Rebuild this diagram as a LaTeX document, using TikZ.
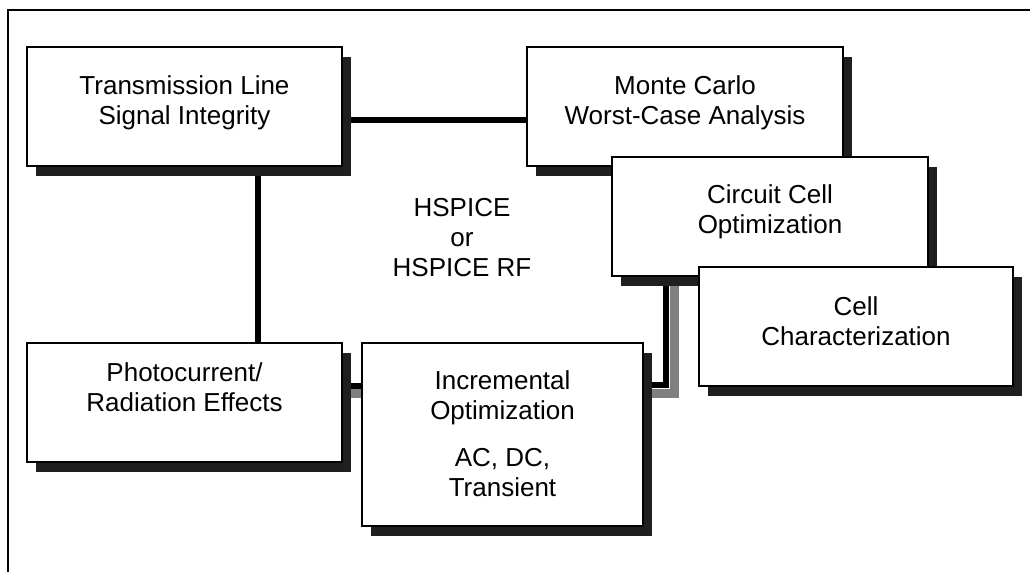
\documentclass[tikz,border=0pt]{standalone}
\usepackage{fontspec}
\setmainfont{Liberation Sans}
\usetikzlibrary{calc,shadows}
\definecolor{shadowc}{gray}{0.12}
\definecolor{connshade}{gray}{0.5}
\tikzset{
  box/.style={draw=black, fill=white, line width=1.5pt, inner sep=0pt, outer sep=0pt,
    general shadow={fill=shadowc, shadow xshift=6.75pt, shadow yshift=-7.5pt}},
  conn/.style={draw=black, line width=4.5pt, line join=miter},
  connshadow/.style={draw=connshade, line width=7pt, line join=miter},
  txt/.style={align=center, inner sep=0pt, font=\fontsize{19.5pt}{22.5pt}\selectfont},
  frame/.style={draw=black, line width=1.75pt}
}
\begin{document}
\begin{tikzpicture}[x=0.75pt,y=-0.75pt]
\useasboundingbox (0,0) rectangle (1030,571);
\clip (0,0) rectangle (1030,571);
\path[fill=white] (0,0) rectangle (1030,571);
\draw[frame] (8,10) rectangle (1100,650);

% box positions (empty nodes first for connector geometry)
\path (184.5,106.5) node[minimum width=236.25pt, minimum height=89.25pt] (tl) {};
\path (685,106.5) node[minimum width=237pt, minimum height=89.25pt] (mc) {};
\path (770,216.5) node[minimum width=237pt, minimum height=89.25pt] (cc) {};
\path (856,326.5) node[minimum width=235.5pt, minimum height=89.25pt] (ch) {};
\path (184.5,402.5) node[minimum width=236.25pt, minimum height=89.25pt] (ph) {};
\path (502.5,434.5) node[minimum width=210.75pt, minimum height=137.25pt] (in) {};

% connectors
\coordinate (a1) at ($(tl.east)+(0,13.5)$);
\coordinate (a2) at ($(mc.west)+(0,13.5)$);
\draw[conn] (a1) -- (a2);
\coordinate (b1) at ($(tl.south)+(73.5,0)$);
\coordinate (b2) at ($(ph.north)+(73.5,0)$);
\draw[conn] (b1) -- (b2);
\coordinate (c1) at ($(ph.east)+(0,-16.5)$);
\coordinate (c2) at ($(ph.east)+(0,-9)$);
\draw[connshadow] (c2) -- (c2 -| in.west);
\draw[conn] (c1) -- (c1 -| in.west);
\coordinate (q1) at ($(in.east)+(0,-49.5)$);
\coordinate (q2) at ($(cc.south)+(-104.5,0)$);
\coordinate (q1s) at ($(in.east)+(0,-41)$);
\coordinate (q2s) at ($(cc.south)+(-95.5,0)$);
\draw[connshadow] (q1s) -| (q2s);
\draw[conn] (q1) -| (q2);

% boxes
\node[box, minimum width=236.25pt, minimum height=89.25pt] at (tl) {};
\node[box, minimum width=237pt, minimum height=89.25pt] at (mc) {};
\node[box, minimum width=236.25pt, minimum height=89.25pt] at (ph) {};
\node[box, minimum width=210.75pt, minimum height=137.25pt] at (in) {};
\node[box, minimum width=237pt, minimum height=89.25pt] at (cc) {};
\node[box, minimum width=235.5pt, minimum height=89.25pt] at (ch) {};

% texts
\node[txt] (tlt) at ($(tl.center)+(0,-3.5)$) {Transmission Line\\Signal Integrity};
\node[txt] (mct) at ($(mc.center)+(0,-3.5)$) {Monte Carlo\\Worst-Case Analysis};
\node[txt] (cct) at ($(cc.center)+(0,-4.5)$) {Circuit Cell\\Optimization};
\node[txt] (cht) at ($(ch.center)+(0,-5)$) {Cell\\Characterization};
\node[txt] (pht) at ($(ph.center)+(0,-15)$) {Photocurrent/\\Radiation Effects};
\node[txt] (int) at ($(in.center)+(0,-1)$) {Incremental\\Optimization\\[12.75pt]AC, DC,\\Transient};
\node[txt] (hs) at (462,238) {HSPICE\\or\\HSPICE RF};
\end{tikzpicture}
\end{document}
